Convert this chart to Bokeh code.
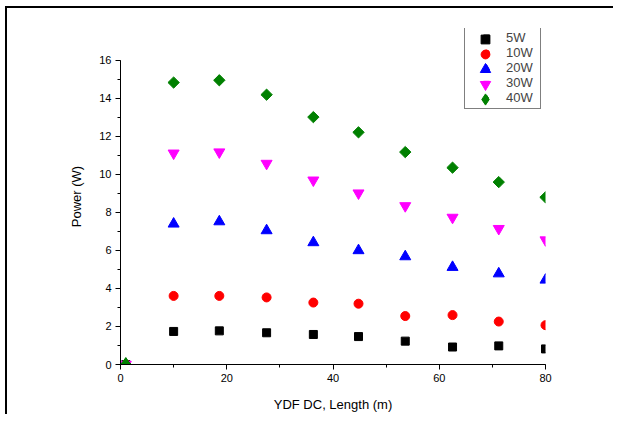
import math
from bokeh.plotting import figure
from bokeh.models import SingleIntervalTicker, Range1d, Legend, LegendItem
from bokeh.embed import file_html
from bokeh.resources import INLINE

length = [1, 10, 18.6, 27.5, 36.3, 44.8, 53.6, 62.5, 71.2, 80]
p5W = [0, 1.74, 1.77, 1.67, 1.58, 1.47, 1.23, 0.92, 0.98, 0.82]
p10W = [0, 3.61, 3.61, 3.53, 3.26, 3.2, 2.55, 2.6, 2.26, 2.07]
p20W = [0, 7.4, 7.52, 7.05, 6.42, 6.0, 5.68, 5.12, 4.78, 4.45]
p30W = [0, 11.12, 11.18, 10.58, 9.7, 9.02, 8.35, 7.74, 7.15, 6.55]
p40W = [0, 14.84, 14.96, 14.2, 13.02, 12.22, 11.18, 10.36, 9.6, 8.8]
labels = ["5W", "10W", "20W", "30W", "40W"]

FONT = "Liberation Sans"

p = figure(output_backend="svg", toolbar_location=None,
           x_range=Range1d(0, 80), y_range=Range1d(0, 17.684),
           min_border_left=113, min_border_right=68, min_border_top=20, min_border_bottom=46,
           frame_width=425, frame_height=336)
p.margin = (6, 0, 0, 5)
p.styles = {"border-left": "2px solid black", "border-top": "2px solid black"}
p.outline_line_color = None
p.grid.visible = False
p.background_fill_color = "white"
p.border_fill_color = "white"

p.xaxis.ticker = SingleIntervalTicker(interval=20, num_minor_ticks=2)
p.yaxis.ticker = SingleIntervalTicker(interval=2, num_minor_ticks=2)
p.yaxis.bounds = (0, 16)
for ax in (p.xaxis, p.yaxis):
    ax.major_tick_in = 0
    ax.major_tick_out = 5
    ax.minor_tick_in = 0
    ax.minor_tick_out = 3
    ax.axis_line_color = "black"
    ax.major_tick_line_color = "black"
    ax.minor_tick_line_color = "black"
    ax.major_label_text_font = FONT
    ax.major_label_text_font_size = "11px"
    ax.major_label_text_color = "black"
    ax.major_label_standoff = 4
    ax.axis_label_text_font = FONT
    ax.axis_label_text_font_size = "13px"
    ax.axis_label_text_font_style = "normal"
    ax.axis_label_text_color = "black"
p.xaxis.axis_label = "YDF DC, Length (m)"
p.yaxis.axis_label = "Power (W)"
p.xaxis.axis_label_standoff = 12
p.yaxis.axis_label_standoff = 12

r1 = p.scatter(length, p5W, marker="square", size=8, color="black")
r2 = p.scatter(length, p10W, marker="circle", size=9, color="red")
r3 = p.scatter(length, p20W, marker="triangle", size=11, color="blue")
r4 = p.scatter(length, p30W, marker="inverted_triangle", size=11, color="magenta")
# legend key glyph for 40W (diamond), drawn at the first 40W point
r5_key = p.scatter(length[:1], p40W[:1], marker="diamond", size=14, color="green")
r5 = p.scatter(length, p40W, marker="square", size=8, angle=math.pi / 4, color="green")
keys = [r1, r2, r3, r4, r5_key]

# main legend: box + labels
legend = Legend(items=[LegendItem(label=l, renderers=[r]) for l, r in zip(labels, keys)],
                location=(344, 255), padding=3, spacing=0, glyph_width=36, glyph_height=15,
                label_height=15, label_width=31, label_standoff=2, margin=0,
                label_text_font=FONT, label_text_font_size="13px",
                border_line_color="black", border_line_width=1,
                background_fill_color="white", background_fill_alpha=1)
p.add_layout(legend, "center")

# overlay legends that draw larger key markers on top of the legend rows
key_box = [22, 22, 26, 26, 28]
for i, (r, g) in enumerate(zip(keys, key_box)):
    cy = 325.5 - 15 * i
    ov = Legend(items=[LegendItem(label=" ", renderers=[r])],
                location=(365 - g / 2, cy - g / 2), padding=0, spacing=0,
                glyph_width=g, glyph_height=g, label_height=g, label_width=0,
                label_standoff=0, margin=0, label_text_font_size="1px",
                border_line_color=None, background_fill_alpha=0)
    p.add_layout(ov, "center")

open("out.html", "w").write(file_html(p, INLINE))
